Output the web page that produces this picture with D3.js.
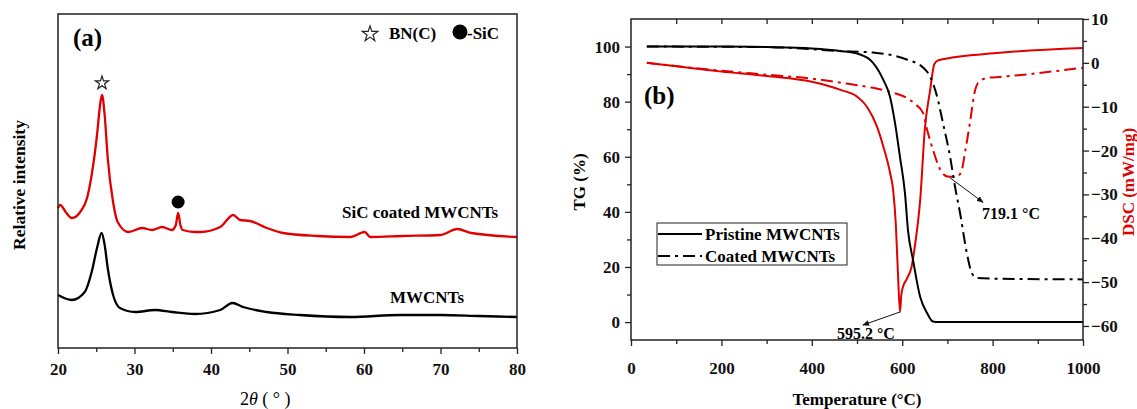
<!DOCTYPE html>
<html>
<head>
<meta charset="utf-8">
<script src="https://cdn.jsdelivr.net/npm/d3@7"></script>
<style>
  body { margin: 0; background: #fff; }
  text { font-family: "Liberation Serif", "Times New Roman", serif; font-weight: bold; }
</style>
</head>
<body>
<svg id="chart" width="1137" height="409"></svg>
<script>
// ---- data: panel (a) XRD, [2theta, intensity (a.u.)]
var sicCoated = [[20,140],[20.3,143],[21,136],[21.8,130],[22.9,136],[23.8,150],[24.4,173],[25.1,213],[25.5,243],
  [25.75,253],[26.1,233],[26.5,190],[27.2,146],[27.8,126],[29.2,116],[31,120],[32.3,118],[33.6,121],[34.9,118],
  [35.4,123],[35.7,135],[36,123],[36.3,118],[37.9,116],[38.6,116],[41.2,121],[42.9,133],[43.8,128],[45.1,127],
  [47.3,120],[49.4,115],[53.9,112],[58.2,111],[60.1,116],[60.8,111],[65,112],[70,113],[72.2,119],[74,115],[80,111]];
var pristine = [[20,53],[21.8,48],[23.5,56],[24.4,76],[25.1,100],[25.7,115],[26.1,103],[26.5,80],[27.2,53],
  [28.1,40],[30.1,36],[32.7,38],[34.9,36],[37.9,34],[41.2,38],[42.8,45],[44.2,41],[47.3,36],[51.6,33],[58.2,31],
  [64.7,33],[70,33],[75,32],[80,31]];
var xTicksA = [20, 30, 40, 50, 60, 70, 80];
var xMinorA = [25, 35, 45, 55, 65, 75];

// ---- data: panel (b) TG / DSC, [temperature, value]
var tgPristine = [[35,100],[200,100],[300,99.8],[400,99.3],[462,98.4],[507,97.1],[535,94.2],[558,88],[573,81.8],
  [584,72.4],[595,60],[606,47],[613,33],[624,22.5],[640,9],[655,3.3],[668,0.2],[680,0],[1000,0]];
var tgCoated = [[35,100],[300,99.8],[462,98.4],[535,97.8],[610,95.3],[646,92.4],[662,89],[677,82],[690,72.4],
  [706,60],[717,49],[728,39.6],[743,25],[754,17.8],[765,16],[794,15.8],[1000,15.5]];
var dscPristine = [[35,0],[200,-2],[300,-3],[400,-4.3],[462,-6.1],[500,-7.7],[522,-10],[544,-14.5],[558,-19],
  [573,-25],[580,-29],[586,-37],[591,-49],[595.2,-56.8],[598,-53],[602,-51],[610,-49.3],[621,-46.4],[628,-41.8],
  [640,-31],[650,-15.2],[662,-6.1],[671,-0.3],[680,0.6],[816,2.3],[1000,3.4]];
var dscCoated = [[35,0],[200,-1.8],[300,-2.7],[400,-3.6],[462,-4.5],[535,-5.7],[580,-6.8],[610,-8],[630,-9.5],
  [646,-11.4],[655,-15.2],[668,-19.8],[684,-24.3],[700,-25.9],[719.1,-26],[730,-25],[740,-19.8],[750,-13.6],
  [760,-6.8],[770,-4.3],[790,-3.4],[816,-3.2],[1000,-1.1]];
var xTicksB = [0, 200, 400, 600, 800, 1000];
var xMinorB = [100, 300, 500, 700, 900];
var xTopB = [100, 200, 300, 400, 500, 600, 700, 800, 900];
var tgTicks = [0, 20, 40, 60, 80, 100];
var tgMinor = [10, 30, 50, 70, 90];
var dscTicks = [-60, -50, -40, -30, -20, -10, 0, 10];
var dscMinor = [-55, -45, -35, -25, -15, -5, 5];
var peaks = [[595.2, -56.8, '595.2 °C'], [719.1, -26, '719.1 °C']];

var RED = '#e00000';
var svg = d3.select('#chart');

svg.append('defs').append('marker')
  .attr('id', 'arrow').attr('viewBox', '0 0 10 10').attr('refX', 9).attr('refY', 5)
  .attr('markerWidth', 7).attr('markerHeight', 7).attr('orient', 'auto')
  .append('path').attr('d', 'M0,1 L10,5 L0,9 Z').style('fill', '#111');

function styleAxis(g, size) {
  g.select('.domain').remove();
  g.selectAll('line').attr('stroke', '#222').attr('stroke-width', 1.3);
  g.selectAll('text').style('font-size', size + 'px').style('fill', '#111');
}

// ================= panel (a) =================
var xA = d3.scaleLinear().domain([20, 80]).range([58, 517]);
var yA = d3.scaleLinear().domain([0, 334]).range([348, 14]);

var lineA = d3.line()
  .x(function(d) { return xA(d[0]); })
  .y(function(d) { return yA(d[1]); })
  .curve(d3.curveMonotoneX);

svg.append('path').datum(sicCoated).attr('d', lineA)
  .style('fill', 'none').attr('stroke', RED).attr('stroke-width', 2.3);
svg.append('path').datum(pristine).attr('d', lineA)
  .style('fill', 'none').attr('stroke', '#000').attr('stroke-width', 2.3);

svg.append('rect').attr('x', 58).attr('y', 14).attr('width', 459).attr('height', 334)
  .style('fill', 'none').attr('stroke', '#222').attr('stroke-width', 1.5);

var axA = svg.append('g').attr('transform', 'translate(0,348)')
  .call(d3.axisBottom(xA).tickValues(xTicksA).tickSize(6).tickPadding(9).tickFormat(d3.format('d')));
styleAxis(axA, 17);
var axAm = svg.append('g').attr('transform', 'translate(0,348)')
  .call(d3.axisBottom(xA).tickValues(xMinorA).tickSize(4).tickFormat(''));
styleAxis(axAm, 17);

// peak markers
var peakA = sicCoated[9], peakSiC = sicCoated[20];
svg.append('path').attr('d', d3.symbol(d3.symbolStar, 55)())
  .attr('transform', 'translate(' + xA(peakA[0]) + ',' + (yA(peakA[1]) - 12) + ')')
  .style('fill', 'none').attr('stroke', '#222').attr('stroke-width', 1.2);
svg.append('circle').attr('cx', xA(peakSiC[0])).attr('cy', yA(peakSiC[1]) - 11).attr('r', 6.5).style('fill', '#000');

// legend of (a)
svg.append('path').attr('d', d3.symbol(d3.symbolStar, 75)())
  .attr('transform', 'translate(370,34)').style('fill', 'none').attr('stroke', '#222').attr('stroke-width', 1.2);
svg.append('text').attr('x', 389).attr('y', 39).style('font-size', '17px').text('BN(C)');
svg.append('circle').attr('cx', 460).attr('cy', 32).attr('r', 7.5).style('fill', '#000');
svg.append('text').attr('x', 467).attr('y', 39).style('font-size', '17px').text('-SiC');

svg.append('text').attr('x', 73).attr('y', 46).style('font-size', '25px').text('(a)');
svg.append('text').attr('x', 342).attr('y', 218).style('font-size', '17px').text('SiC coated MWCNTs');
svg.append('text').attr('x', 390).attr('y', 303).style('font-size', '17px').text('MWCNTs');

var xtA = svg.append('text').attr('x', 240).attr('y', 405).style('font-size', '18px').style('font-weight', 'normal');
xtA.append('tspan').text('2');
xtA.append('tspan').style('font-style', 'italic').text('θ');
xtA.append('tspan').text(' ( ° )');

svg.append('text').attr('transform', 'translate(25,185) rotate(-90)').attr('text-anchor', 'middle')
  .style('font-size', '17.5px').text('Relative  intensity');

// ================= panel (b) =================
var xB = d3.scaleLinear().domain([0, 1000]).range([631, 1083]);
var yTG = d3.scaleLinear().domain([-6.5, 110]).range([340, 19]);
var yDSC = d3.scaleLinear().domain([-63.2, 10]).range([340, 19]);

var lineTG = d3.line().x(function(d) { return xB(d[0]); }).y(function(d) { return yTG(d[1]); }).curve(d3.curveMonotoneX);
var lineDSC = d3.line().x(function(d) { return xB(d[0]); }).y(function(d) { return yDSC(d[1]); }).curve(d3.curveMonotoneX);
var dashDot = '12,5,3,5';

svg.append('path').datum(dscPristine).attr('d', lineDSC)
  .style('fill', 'none').attr('stroke', RED).attr('stroke-width', 2);
svg.append('path').datum(dscCoated).attr('d', lineDSC)
  .style('fill', 'none').attr('stroke', RED).attr('stroke-width', 2).attr('stroke-dasharray', dashDot);
svg.append('path').datum(tgPristine).attr('d', lineTG)
  .style('fill', 'none').attr('stroke', '#000').attr('stroke-width', 2);
svg.append('path').datum(tgCoated).attr('d', lineTG)
  .style('fill', 'none').attr('stroke', '#000').attr('stroke-width', 2).attr('stroke-dasharray', dashDot);

svg.append('rect').attr('x', 631).attr('y', 19).attr('width', 452).attr('height', 321)
  .style('fill', 'none').attr('stroke', '#222').attr('stroke-width', 1.5);

var axB = svg.append('g').attr('transform', 'translate(0,340)')
  .call(d3.axisBottom(xB).tickValues(xTicksB).tickSize(6).tickPadding(16).tickFormat(d3.format('d')));
styleAxis(axB, 17);
var axBm = svg.append('g').attr('transform', 'translate(0,340)')
  .call(d3.axisBottom(xB).tickValues(xMinorB).tickSize(4).tickFormat(''));
styleAxis(axBm, 17);
var axBt = svg.append('g').attr('transform', 'translate(0,19)')
  .call(d3.axisBottom(xB).tickValues(xTopB).tickSize(5).tickFormat(''));
styleAxis(axBt, 17);

var axTG = svg.append('g').attr('transform', 'translate(631,0)')
  .call(d3.axisLeft(yTG).tickValues(tgTicks).tickSize(6).tickPadding(5).tickFormat(d3.format('d')));
styleAxis(axTG, 17);
var axTGm = svg.append('g').attr('transform', 'translate(631,0)')
  .call(d3.axisLeft(yTG).tickValues(tgMinor).tickSize(4).tickFormat(''));
styleAxis(axTGm, 17);

var axD = svg.append('g').attr('transform', 'translate(1083,0)')
  .call(d3.axisRight(yDSC).tickValues(dscTicks).tickSize(6).tickPadding(2).tickFormat(d3.format('d')));
styleAxis(axD, 17);
var axDm = svg.append('g').attr('transform', 'translate(1083,0)')
  .call(d3.axisRight(yDSC).tickValues(dscMinor).tickSize(4).tickFormat(''));
styleAxis(axDm, 17);

// peak annotations
var arrowEnd = [[513, -59.8, 32, 14, 'end'], [779, -31.8, -1, 17, 'start']];
peaks.forEach(function(p, i) {
  var e = arrowEnd[i];
  var x0 = xB(p[0]) + (i === 0 ? 0 : -6), y0 = yDSC(p[1]) + (i === 0 ? 0 : 1);
  svg.append('line').attr('x1', x0).attr('y1', y0).attr('x2', xB(e[0])).attr('y2', yDSC(e[1]))
    .attr('stroke', '#111').attr('stroke-width', 1).attr('marker-end', 'url(#arrow)');
  svg.append('text').attr('x', xB(e[0]) + e[2]).attr('y', yDSC(e[1]) + e[3]).attr('text-anchor', e[4])
    .style('font-size', '16px').text(p[2]);
});

// legend of (b)
var legB = svg.append('g');
legB.append('rect').attr('x', 657).attr('y', 223).attr('width', 190).attr('height', 42)
  .style('fill', '#fff').attr('stroke', '#222').attr('stroke-width', 1);
var legItems = [['Pristine MWCNTs', null, 234], ['Coated MWCNTs', dashDot, 256]];
legItems.forEach(function(d) {
  legB.append('line').attr('x1', 658).attr('x2', 702).attr('y1', d[2]).attr('y2', d[2])
    .attr('stroke', '#000').attr('stroke-width', 2).attr('stroke-dasharray', d[1]);
  legB.append('text').attr('x', 705).attr('y', d[2] + 6).style('font-size', '17px').text(d[0]);
});

svg.append('text').attr('x', 644).attr('y', 104).style('font-size', '25px').text('(b)');
svg.append('text').attr('x', 857).attr('y', 405).attr('text-anchor', 'middle').style('font-size', '17px')
  .text('Temperature (°C)');
svg.append('text').attr('transform', 'translate(585,182) rotate(-90)').attr('text-anchor', 'middle')
  .style('font-size', '17px').text('TG (%)');
svg.append('text').attr('transform', 'translate(1134,182) rotate(-90)').attr('text-anchor', 'middle')
  .style('font-size', '17px').style('fill', RED).text('DSC (mW/mg)');
</script>
</body>
</html>
